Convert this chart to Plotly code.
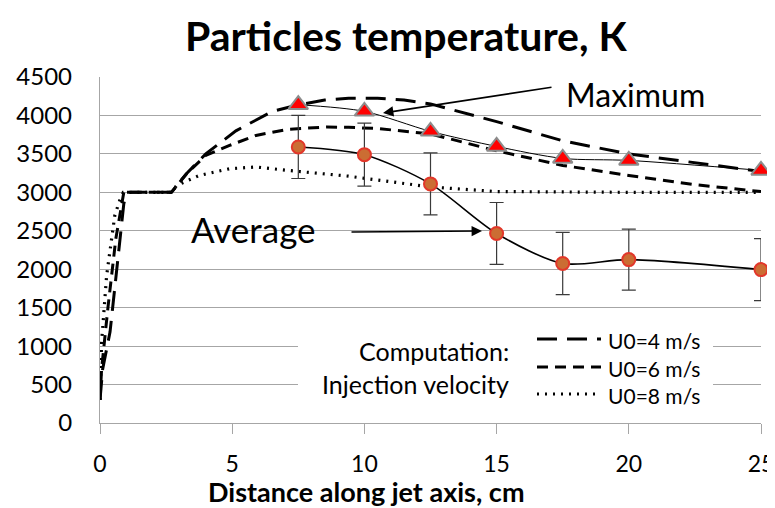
import plotly.graph_objects as go

# ---------------- data ----------------
# Computation: injection velocity U0 = 4 m/s (long dash)
x_u4 = [0, 0.1, 0.38, 0.56, 0.75, 0.9, 1.0, 2.0, 2.7, 3.26, 4.0, 5.14, 6.5, 7.4, 8.5, 9.4, 10.5, 11.5, 12.5, 15, 17.5, 20, 22.5, 25]
y_u4 = [300, 700, 1185, 1780, 2430, 2850, 3000, 3000, 3000, 3240, 3500, 3800, 4050, 4130, 4200, 4225, 4225, 4200, 4150, 3920, 3670, 3500, 3385, 3270]

# U0 = 6 m/s (medium dash)
x_u6 = [0, 0.06, 0.3, 0.6, 0.9, 2.0, 2.7, 3.3, 4.0, 4.9, 5.9, 7.1, 8.6, 9.4, 10.5, 12.5, 15, 17.5, 20, 22.5, 25]
y_u6 = [300, 700, 1500, 2400, 3000, 3000, 3000, 3250, 3480, 3610, 3740, 3820, 3850, 3845, 3830, 3760, 3540, 3350, 3220, 3100, 3010]

# U0 = 8 m/s (dotted)
x_u8 = [0, 0.06, 0.25, 0.56, 0.75, 0.88, 2.0, 2.7, 2.9, 3.76, 4.9, 5.9, 7.1, 8.4, 9.4, 10.5, 12.5, 15, 17.5, 20, 22.5, 25]
y_u8 = [300, 1050, 1915, 2700, 2900, 3000, 3000, 3000, 3090, 3220, 3307, 3330, 3285, 3240, 3210, 3160, 3070, 3010, 3000, 3000, 3000, 3000]

# Measurements
x_meas = [7.5, 10, 12.5, 15, 17.5, 20, 25]
y_avg = [3590, 3490, 3110, 2465, 2075, 2125, 1995]
err_avg = [410, 410, 403, 403, 405, 397, 404]
y_max = [4140, 4053, 3793, 3597, 3441, 3415, 3285]

x_ticks = [0, 5, 10, 15, 20, 25]
y_ticks = [0, 500, 1000, 1500, 2000, 2500, 3000, 3500, 4000, 4500]

legend_labels = ["U0=4 m/s", "U0=6 m/s", "U0=8 m/s"]

# ---------------- figure ----------------
FONT = "Lato, 'Open Sans', sans-serif"
OFF = 8                      # page body margin offset
W, H = 775 - OFF, 508 - OFF
# plot area in screen pixels: x 100..761, y 77..423
PX0, PX1, PY0, PY1 = 100, 761, 77, 423
L, T = PX0 - OFF, PY0 - OFF
B = H - (PY1 - OFF)
R = W - (PX1 - OFF)

fig = go.Figure()

fig.add_trace(go.Scatter(x=x_u4, y=y_u4, mode="lines",
                         line=dict(color="black", width=3, dash="20px,10px"), showlegend=False))
fig.add_trace(go.Scatter(x=x_u6, y=y_u6, mode="lines",
                         line=dict(color="black", width=3, dash="11px,7px"), showlegend=False))
fig.add_trace(go.Scatter(x=x_u8, y=y_u8, mode="lines",
                         line=dict(color="black", width=3.2, dash="2px,6px"), showlegend=False))

fig.add_trace(go.Scatter(x=x_meas, y=y_avg, mode="lines+markers",
                         line=dict(color="black", width=1.6, shape="spline", smoothing=0.8),
                         marker=dict(symbol="circle", size=13, color="#CB6D33",
                                     line=dict(color="#E2372A", width=2)),
                         error_y=dict(type="data", array=err_avg, visible=True,
                                      color="#3A3A3A", thickness=1.2, width=7),
                         showlegend=False, cliponaxis=False))

fig.add_trace(go.Scatter(x=x_meas, y=y_max, mode="lines+markers",
                         line=dict(color="black", width=1, shape="spline", smoothing=0.8),
                         marker=dict(symbol="triangle-up", size=17, color="#FF0000",
                                     line=dict(color="#8C8C8C", width=2)),
                         showlegend=False, cliponaxis=False))

# screen pixel -> data helpers (for annotation placement)
pw = W - L - R
ph = H - T - B
def dx(px):
    return (px - OFF - L) / pw * 25
def dy(py):
    return (H - B - (py - OFF)) / ph * 4500

# white box behind custom legend
fig.add_shape(type="rect", xref="x", yref="y", x0=dx(298), x1=dx(713), y0=dy(412), y1=dy(316),
              fillcolor="white", line=dict(width=0), layer="between")

# legend line samples
dashes = ["20px,10px", "11px,7px", "2px,6px"]
leg_y = [339, 367, 394]
for d, py, lab in zip(dashes, leg_y, legend_labels):
    fig.add_shape(type="line", xref="x", yref="y", x0=dx(537), x1=dx(601), y0=dy(py), y1=dy(py),
                  line=dict(color="black", width=3, dash=d), layer="above")
    fig.add_annotation(x=dx(606), y=dy(py + 1), xref="x", yref="y", text=lab, showarrow=False,
                       xanchor="left", yanchor="middle", font=dict(family=FONT, size=21, color="black"))

fig.add_annotation(x=dx(511), y=dy(351), xref="x", yref="y", text="Computation:", showarrow=False,
                   xanchor="right", yanchor="middle", font=dict(family=FONT, size=25, color="black"))
fig.add_annotation(x=dx(511), y=dy(384), xref="x", yref="y", text="Injection velocity", showarrow=False,
                   xanchor="right", yanchor="middle", font=dict(family=FONT, size=25, color="black"))

# Maximum label + arrow
fig.add_annotation(x=dx(635), y=dy(94), xref="x", yref="y", text="Maximum", showarrow=False,
                   font=dict(family=FONT, size=32, color="black"))
fig.add_annotation(x=dx(383), y=dy(113), ax=dx(553), ay=dy(87), xref="x", yref="y", axref="x", ayref="y",
                   text="", showarrow=True, arrowhead=2, arrowsize=1.3, arrowwidth=1.6, arrowcolor="black")

# Average label + arrow
fig.add_annotation(x=dx(253), y=dy(229), xref="x", yref="y", text="Average", showarrow=False,
                   font=dict(family=FONT, size=35, color="black"))
fig.add_annotation(x=dx(482), y=dy(231), ax=dx(350), ay=dy(232), xref="x", yref="y", axref="x", ayref="y",
                   text="", showarrow=True, arrowhead=2, arrowsize=1.3, arrowwidth=1.6, arrowcolor="black")

# x-axis title placed explicitly (paper coords of the plot area)
fig.add_annotation(xref="paper", yref="paper", x=(366 - OFF - L) / pw, y=(H - B - (491 - OFF)) / ph,
                   text="<b>Distance along jet axis, cm</b>", showarrow=False,
                   xanchor="center", yanchor="middle",
                   font=dict(family=FONT, size=27, color="black"))

fig.update_layout(
    width=W, height=H,
    margin=dict(l=L, r=R, t=T, b=B, autoexpand=False),
    paper_bgcolor="white", plot_bgcolor="white",
    font=dict(family=FONT, color="black"),
    title=dict(text="<b>Particles temperature, К</b>", x=(406 - OFF) / W, xanchor="center",
               y=1 - (37 - OFF) / H, yanchor="middle", font=dict(family=FONT, size=41, color="black")),
    xaxis=dict(range=[0, 25], tickvals=x_ticks, ticktext=[str(v) for v in x_ticks],
               showgrid=False, zeroline=False, showline=True, linecolor="#A6A6A6", linewidth=1.3,
               ticks="outside", ticklen=10, tickcolor="#A6A6A6", tickwidth=1.3, automargin=False,
               ticklabeloverflow="allow",
               tickfont=dict(family=FONT, size=23, color="black"), ticklabelstandoff=10),
    yaxis=dict(range=[0, 4500], tickvals=y_ticks, ticktext=[str(v) for v in y_ticks],
               showgrid=True, gridcolor="#A6A6A6", gridwidth=1.3, zeroline=False, automargin=False,
               showline=True, linecolor="#A6A6A6", linewidth=1.3, ticks="", ticklabeloverflow="allow",
               tickfont=dict(family=FONT, size=24, color="black"), ticklabelstandoff=22),
)

fig.write_html("out.html")
